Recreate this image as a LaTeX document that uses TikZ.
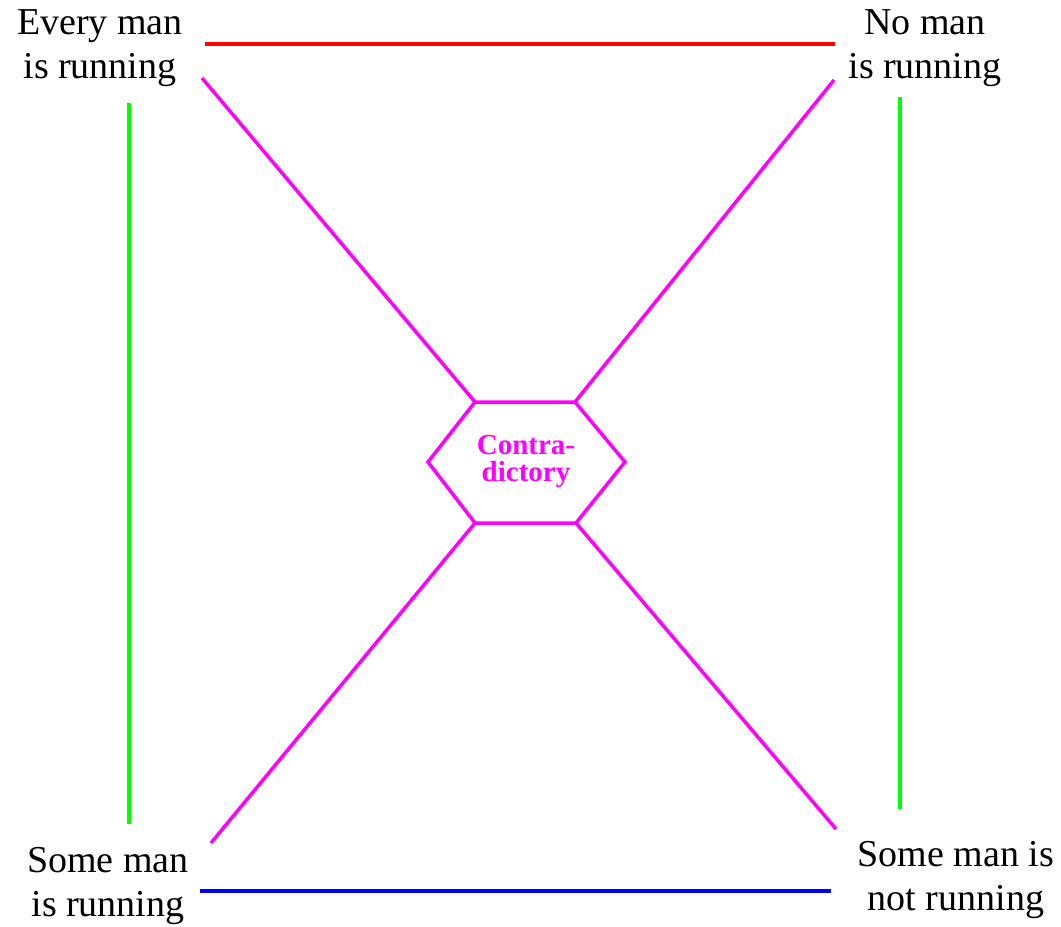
\documentclass[tikz,border=0pt]{standalone}
\usepackage{fontspec}
\setmainfont{Liberation Serif}
\usepackage{tikz}
\usetikzlibrary{positioning}
\definecolor{contramag}{RGB}{255,0,255}
\definecolor{subgreen}{RGB}{0,255,0}
\definecolor{subblue}{RGB}{0,0,255}
\definecolor{conred}{RGB}{255,0,0}

\begin{document}
\begin{tikzpicture}[
  x=0.5pt, y=-0.5pt,
  stmt/.style={inner sep=0pt, align=center, font=\fontsize{19}{22}\selectfont},
  rel/.style={line width=1.75pt},
  contra/.style={rel, draw=contramag},
]
  \useasboundingbox (0,0) rectangle (1061,927);
  % the four statements
  \node[stmt] (A) at (100,48)  {Every man\\is running};
  \node[stmt] (E) at (925,48)  {No man\\is running};
  \node[stmt] (I) at (108,886) {Some man\\is running};
  \node[stmt] (O) at (956,880) {Some man is\\not running};
  % hexagon in the middle
  \coordinate (h1) at (475,402);
  \coordinate (h2) at (575,402);
  \coordinate (h3) at (625,462);
  \coordinate (h4) at (576,523);
  \coordinate (h5) at (475,523);
  \coordinate (h6) at (428,462);
  \draw[contra, line join=miter] (h1) -- (h2) -- (h3) -- (h4) -- (h5) -- (h6) -- cycle;
  \node[inner sep=0pt, align=center, text=contramag,
        font=\fontsize{14.5}{13.5}\selectfont\bfseries] (mid) at (526,462) {Contra-\\dictory};
  % free ends of the lines
  \coordinate (a1) at (205,44);  \coordinate (e1) at (835,44);
  \coordinate (i1) at (200,891); \coordinate (o1) at (831,891);
  \coordinate (a2) at (129,103); \coordinate (i2) at (129,824);
  \coordinate (e2) at (900,97);  \coordinate (o2) at (900,809);
  \coordinate (a3) at (202,78);  \coordinate (e3) at (834,80);
  \coordinate (i3) at (211,843); \coordinate (o3) at (836,829);
  % contrary, subcontrary, subalterns
  \draw[rel, conred]   (a1) -- (e1);
  \draw[rel, subblue]  (i1) -- (o1);
  \draw[rel, subgreen] (a2) -- (i2);
  \draw[rel, subgreen] (e2) -- (o2);
  % contradictories
  \draw[contra] (a3) -- (h1);
  \draw[contra] (e3) -- (h2);
  \draw[contra] (i3) -- (h5);
  \draw[contra] (o3) -- (h4);
\end{tikzpicture}
\end{document}
